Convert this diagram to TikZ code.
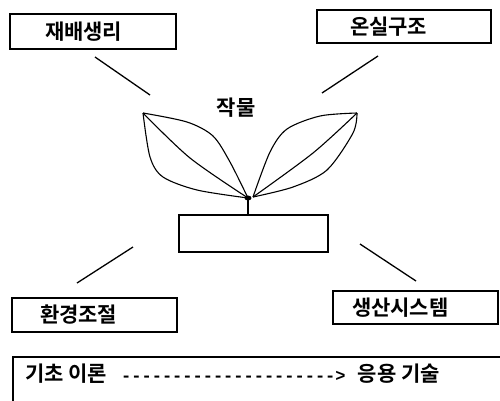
\documentclass[tikz,border=0pt]{standalone}
\usepackage{fontspec}
\newfontfamily\kr{Noto Sans CJK KR}[BoldFont={Noto Sans CJK KR Bold}]
\newfontfamily\dashfont{Liberation Mono}
\tikzset{
    field/.style={rectangle, draw, line width=1.4pt, align=left, inner ysep=0pt, font=\kr\bfseries\fontsize{21}{24}\selectfont},
    link/.style={line width=1.3pt},
    leaf/.style={line width=1.1pt}
}
\begin{document}
\begin{tikzpicture}[x=1pt, y=-1pt]
    \useasboundingbox (0,0) rectangle (500,400);
    \node(cultivation) [field, inner xsep=35pt, text width=96pt, minimum height=35pt] at (93,31.5){재배생리};
    \node(greenhouse) [field, inner xsep=33pt, text width=108pt, minimum height=33pt] at (404,26.5){온실구조};
    \node(environment) [field, inner xsep=28pt, text width=109pt, minimum height=34pt] at (94.5,315){환경조절};
    \node(production) [field, inner xsep=19pt, text width=127pt, minimum height=33pt] at (415.5,307.5){생산시스템};
    \node(crop) [font=\kr\bfseries\fontsize{21}{24}\selectfont] at (236,108){작물};
    \coordinate (tipL) at (143,113);
    \coordinate (tipR) at (357,113);
    \coordinate (base) at (248,198);
    \draw[leaf] plot[smooth] coordinates {(tipL) (187,122) (213,136) (230,162) (base)};
    \draw[leaf] plot[smooth] coordinates {(tipL) (150,157) (163,177) (197,190) (base)};
    \draw[leaf] plot[smooth] coordinates {(tipL) (190,158) (base)};
    \draw[leaf] plot[smooth] coordinates {(tipR) (320,116) (287,129) (270,152) (253,197)};
    \draw[leaf] plot[smooth] coordinates {(tipR) (353,133) (327,170) (293,187) (253,197)};
    \draw[leaf] plot[smooth] coordinates {(tipR) (313,153) (253,197)};
    \fill (base) ellipse (3.5pt and 2.5pt);
    \node(pot) [rectangle, draw, line width=1.3pt, minimum width=149pt, minimum height=37pt, inner sep=0pt] at (253.5,233.5){};
    \draw[line width=2.2pt] (base) -- (pot.north -| base);
    \coordinate (a1) at (95,57);
    \coordinate (a2) at (150,95);
    \coordinate (b1) at (378,56);
    \coordinate (b2) at (322,93);
    \coordinate (c1) at (133,247);
    \coordinate (c2) at (77,283);
    \coordinate (d1) at (360,244);
    \coordinate (d2) at (416,281);
    \draw[link] (a1) -- (a2);
    \draw[link] (b1) -- (b2);
    \draw[link] (c1) -- (c2);
    \draw[link] (d1) -- (d2);
    \draw[line width=1.4pt] (13,410) -- (13,357) -- (510,357);
    \node(scale) [anchor=west, inner sep=0pt, font=\kr\bfseries\fontsize{21}{24}\selectfont] at (25,374){기초 이론\hspace{14pt}{\dashfont\bfseries\fontsize{17}{20}\selectfont --------------------->}\hspace{12pt}응용 기술};
\end{tikzpicture}
\end{document}
